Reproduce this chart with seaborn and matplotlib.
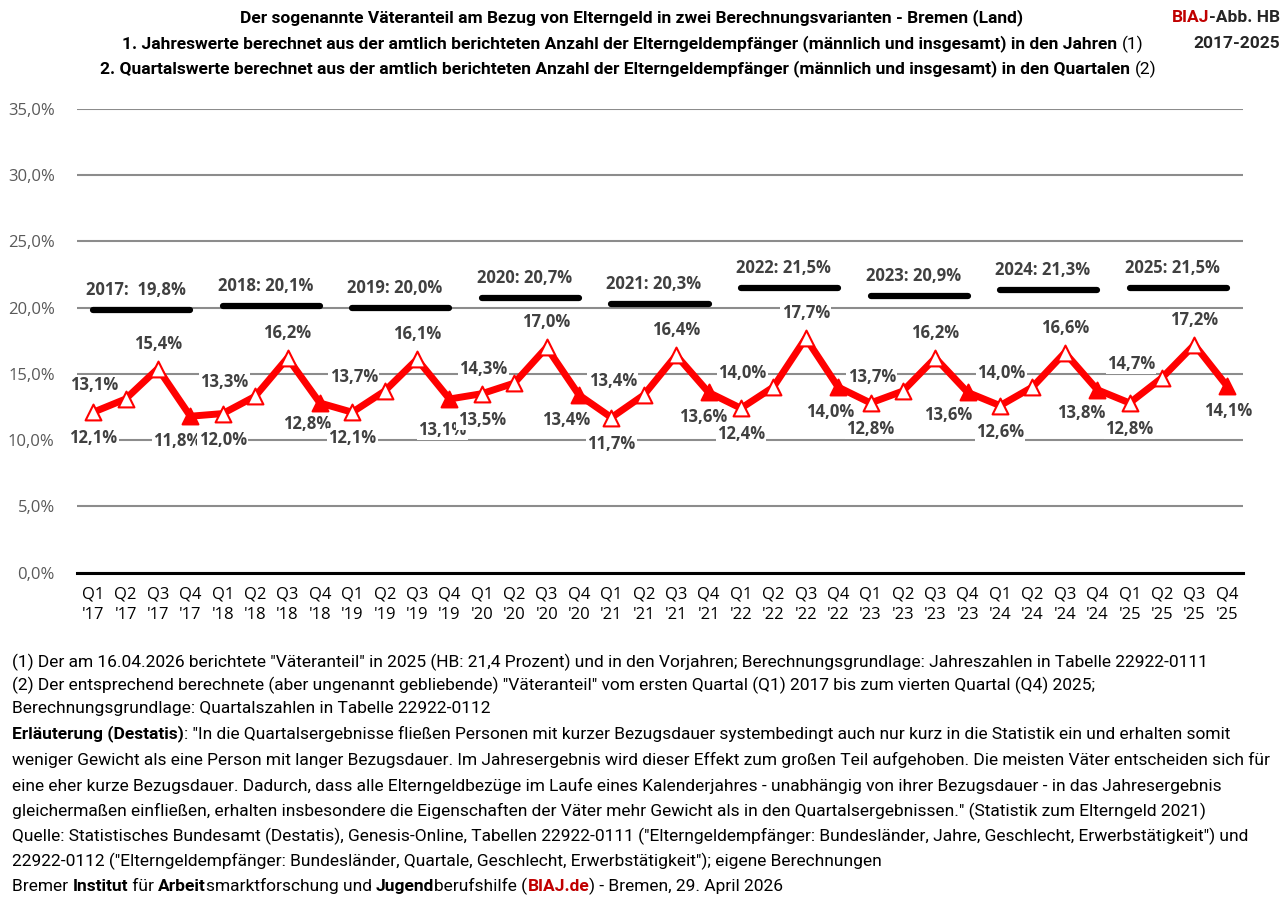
import numpy as np
import pandas as pd
import matplotlib
matplotlib.use("Agg")
import matplotlib.pyplot as plt
from matplotlib.text import Annotation
import seaborn as sns

# Daten (Väteranteil in Prozent)
jahre = [2017, 2018, 2019, 2020, 2021, 2022, 2023, 2024, 2025]
quartale = ["Q1", "Q2", "Q3", "Q4"]
quartalswerte = [12.1, 13.1, 15.4, 11.8,
                 12.0, 13.3, 16.2, 12.8,
                 12.1, 13.7, 16.1, 13.1,
                 13.5, 14.3, 17.0, 13.4,
                 11.7, 13.4, 16.4, 13.6,
                 12.4, 14.0, 17.7, 14.0,
                 12.8, 13.7, 16.2, 13.6,
                 12.6, 14.0, 16.6, 13.8,
                 12.8, 14.7, 17.2, 14.1]
jahreswerte = [19.8, 20.1, 20.0, 20.7, 20.3, 21.5, 20.9, 21.3, 21.5]
kategorien = [f"{q}\n'{str(j)[2:]}" for j in jahre for q in quartale]


def pct(v):
    return f"{v:.1f}".replace(".", ",") + "%"


sns.set_theme(style="white")
SCHRIFT = ["Open Sans", "DejaVu Sans"]
SCHMAL = ["Roboto", "DejaVu Sans"]
plt.rcParams["font.family"] = SCHRIFT

df = pd.DataFrame({
    "pos": np.arange(len(quartalswerte)),
    "wert": quartalswerte,
    "quartal": quartale * len(jahre),
})
jdf = pd.DataFrame({
    "pos": [p for i in range(len(jahre)) for p in (4 * i, 4 * i + 3)],
    "wert": [w for w in jahreswerte for _ in range(2)],
    "jahr": [j for j in jahre for _ in range(2)],
})

fig = plt.figure(figsize=(12.86, 9.05), dpi=100)
ax = fig.add_axes([77 / 1286, 1 - 572.6 / 905, 1166 / 1286, 463.8 / 905])

# Jahreswerte als schwarze Balken
sns.lineplot(data=jdf, x="pos", y="wert", units="jahr", estimator=None,
             color="black", lw=4.5, solid_capstyle="round", ax=ax, zorder=3)
# Quartalswerte
sns.lineplot(data=df, x="pos", y="wert", color="#ff0000", lw=5, ax=ax, zorder=3)
sns.scatterplot(data=df[df.quartal != "Q4"], x="pos", y="wert", marker="^", s=130,
                facecolor="white", edgecolor="#ff0000", linewidth=1.5, ax=ax, zorder=4)
sns.scatterplot(data=df[df.quartal == "Q4"], x="pos", y="wert", marker="^", s=130,
                color="#ff0000", edgecolor="#ff0000", linewidth=1.5, ax=ax, zorder=4)

# Beschriftungen der Quartalswerte (Versatz in Pixeln, y nach unten)
versatz = {"Q1": (0, 26), "Q2": (-31, -14), "Q3": (0, -25)}
q4_versatz = [(-13, 25), (-13, 21), (-7, 31), (-13, 25), (-5, 25),
              (-8, 25), (-20, 23), (-16, 23), (1, 25)]
for i, (p, w, q) in enumerate(zip(df.pos, df.wert, df.quartal)):
    dx, dy = q4_versatz[i // 4] if q == "Q4" else versatz[q]
    ax.annotate(pct(w), (p, w), xytext=(dx, -dy), textcoords="offset pixels",
                ha="center", va="center", fontsize=12, fontweight="bold",
                color="#404040", zorder=5,
                bbox=dict(fc="white", ec="none", pad=1))

# Beschriftungen der Jahreswerte
for i, (j, w) in enumerate(zip(jahre, jahreswerte)):
    sep = ":  " if j == 2017 else ": "
    ax.annotate(f"{j}{sep}{pct(w)}", (4 * i + 1.5, w), xytext=(-6, 20),
                textcoords="offset pixels", ha="center", va="center",
                fontsize=12, fontweight="bold", color="#404040", zorder=5)

ax.set_xlim(-0.5, len(quartalswerte) - 0.5)
ax.set_ylim(0, 35)
ax.set_yticks(np.arange(0, 36, 5))
ax.set_yticklabels([pct(v) for v in np.arange(0, 36, 5)], color="#595959", fontsize=12)
ax.set_xticks(df.pos)
ax.set_xticklabels(kategorien, fontsize=12, color="black", linespacing=1.4)
ax.set_xticks(np.arange(-0.5, len(quartalswerte)), minor=True)
ax.tick_params(axis="x", which="major", length=0, pad=10)
ax.tick_params(axis="x", which="minor", direction="in", length=5, width=1.5, color="black")
ax.tick_params(axis="y", length=0, pad=16)
ax.set_xlabel("")
ax.set_ylabel("")
ax.yaxis.grid(True, color="#8c8c8c", lw=1.5, zorder=0)
ax.set_axisbelow(True)
for s in ["top", "right", "left"]:
    ax.spines[s].set_visible(False)
ax.spines["bottom"].set_color("black")
ax.spines["bottom"].set_linewidth(2.2)


def zeile(x, y, teile, groesse):
    """Text aus mehreren Teilen (Text, fett, Farbe) hintereinander setzen."""
    vorher = None
    for text, fett, farbe in teile:
        kw = dict(fontsize=groesse, family=SCHMAL, color=farbe,
                  fontweight="bold" if fett else "normal", va="center", ha="left")
        if vorher is None:
            vorher = fig.text(x / 1286, 1 - y / 905, text, **kw)
        else:
            vorher = fig.add_artist(Annotation(text, xy=(1, 0.5), xycoords=vorher, **kw))


SCHWARZ = "black"
ROT = "#c00000"
zeile(240, 18, [("Der sogenannte Väteranteil am Bezug von Elterngeld in zwei Berechnungsvarianten - Bremen (Land)", True, SCHWARZ)], 12.5)
zeile(122, 44, [("1. Jahreswerte berechnet aus der amtlich berichteten Anzahl der Elterngeldempfänger (männlich und insgesamt) in den Jahren ", True, SCHWARZ),
                ("(1)", False, SCHWARZ)], 12.5)
zeile(100, 69, [("2. Quartalswerte berechnet aus der amtlich berichteten Anzahl der Elterngeldempfänger (männlich und insgesamt) in den Quartalen ", True, SCHWARZ),
                ("(2)", False, SCHWARZ)], 12.5)
fig.text(1280 / 1286, 1 - 44 / 905, "2017-2025", ha="right", va="center",
         fontsize=12.5, family=SCHMAL, fontweight="bold")
t = fig.text(1280 / 1286, 1 - 18 / 905, "-Abb. HB", ha="right", va="center",
             fontsize=12.5, family=SCHMAL, fontweight="bold")
fig.add_artist(Annotation("BIAJ", xy=(0, 0.5), xycoords=t, ha="right", va="center",
                          fontsize=12.5, family=SCHMAL, fontweight="bold", color=ROT))

fuss = [
    (662, [("(1) Der am 16.04.2026 berichtete \"Väteranteil\" in 2025 (HB: 21,4 Prozent) und in den Vorjahren; Berechnungsgrundlage: Jahreszahlen in Tabelle 22922-0111", False, SCHWARZ)]),
    (685, [("(2) Der entsprechend berechnete (aber ungenannt gebliebende) \"Väteranteil\" vom ersten Quartal (Q1) 2017 bis zum vierten Quartal (Q4) 2025;", False, SCHWARZ)]),
    (708, [("Berechnungsgrundlage: Quartalszahlen in Tabelle 22922-0112", False, SCHWARZ)]),
    (734, [("Erläuterung (Destatis)", True, SCHWARZ),
           (": \"In die Quartalsergebnisse fließen Personen mit kurzer Bezugsdauer systembedingt auch nur kurz in die Statistik ein und erhalten somit", False, SCHWARZ)]),
    (760, [("weniger Gewicht als eine Person mit langer Bezugsdauer. Im Jahresergebnis wird dieser Effekt zum großen Teil aufgehoben. Die meisten Väter entscheiden sich für", False, SCHWARZ)]),
    (786, [("eine eher kurze Bezugsdauer. Dadurch, dass alle Elterngeldbezüge im Laufe eines Kalenderjahres - unabhängig von ihrer Bezugsdauer - in das Jahresergebnis", False, SCHWARZ)]),
    (811, [("gleichermaßen einfließen, erhalten insbesondere die Eigenschaften der Väter mehr Gewicht als in den Quartalsergebnissen.\" (Statistik zum Elterngeld 2021)", False, SCHWARZ)]),
    (836, [("Quelle: Statistisches Bundesamt (Destatis), Genesis-Online, Tabellen 22922-0111 (\"Elterngeldempfänger: Bundesländer, Jahre, Geschlecht, Erwerbstätigkeit\") und", False, SCHWARZ)]),
    (861, [("22922-0112 (\"Elterngeldempfänger: Bundesländer, Quartale, Geschlecht, Erwerbstätigkeit\"); eigene Berechnungen", False, SCHWARZ)]),
    (886, [("Bremer ", False, SCHWARZ), ("Institut", True, SCHWARZ), (" für ", False, SCHWARZ),
           ("Arbeit", True, SCHWARZ), ("smarktforschung und ", False, SCHWARZ), ("Jugend", True, SCHWARZ),
           ("berufshilfe (", False, SCHWARZ), ("BIAJ.de", True, ROT), (") - Bremen, 29. April 2026", False, SCHWARZ)]),
]
for y, teile in fuss:
    zeile(12, y, teile, 12.5)

fig.savefig("out.png", dpi=100)
